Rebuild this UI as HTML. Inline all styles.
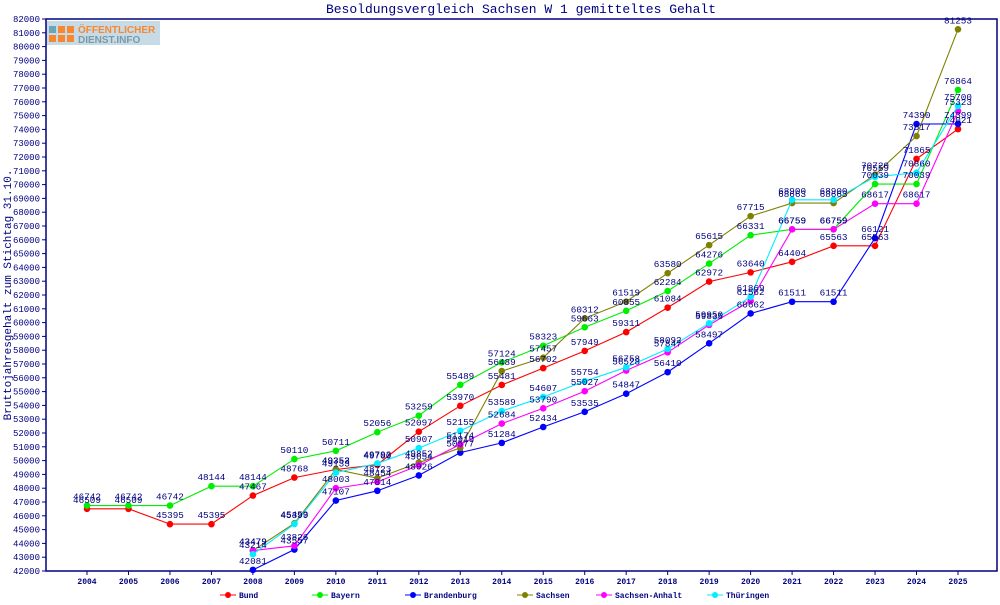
<!DOCTYPE html>
<html><head><meta charset="utf-8"><style>
body{margin:0;background:#fff;}
svg text{font-family:"Liberation Mono",monospace;fill:#000080;}
</style></head><body>
<svg id="chart" width="1000" height="600" xmlns="http://www.w3.org/2000/svg">
<text x="521" y="13" text-anchor="middle" font-size="13" font-weight="normal">Besoldungsvergleich Sachsen W 1 gemitteltes Gehalt</text>
<g>
<rect x="46" y="21" width="114" height="24" fill="#c7dbe6"/>
<rect x="49" y="26" width="7" height="7" fill="#6aa6b8"/><rect x="58" y="26" width="7" height="7" fill="#f7882f"/>
<rect x="49" y="35" width="7" height="7" fill="#f7882f"/><rect x="58" y="35" width="7" height="7" fill="#f7882f"/><rect x="67" y="35" width="7" height="7" fill="#f7882f"/><rect x="67" y="26" width="7" height="7" fill="#f7882f"/>
<text x="78" y="33" font-size="10" font-weight="bold" style="fill:#f7882f;font-family:'Liberation Sans',sans-serif">ÖFFENTLICHER</text>
<text x="78" y="43" font-size="10" font-weight="bold" style="fill:#7a9aa8;font-family:'Liberation Sans',sans-serif">DIENST.INFO</text>
</g>
<rect x="46" y="19" width="951" height="552" fill="none" stroke="#000080" stroke-width="1.5"/>
<text transform="translate(11,295) rotate(-90)" text-anchor="middle" font-size="11">Bruttojahresgehalt zum Stichtag 31.10.</text>
<g id="axes"></g><g id="series"></g><g id="legend"></g>
</svg>
<script>
const years=[2004,2005,2006,2007,2008,2009,2010,2011,2012,2013,2014,2015,2016,2017,2018,2019,2020,2021,2022,2023,2024,2025];
const yTicks=[];for(let v=42000;v<=82000;v+=1000)yTicks.push(v);
const seriesNames=["Bund","Bayern","Brandenburg","Sachsen","Sachsen-Anhalt","Thüringen"];
const seriesColors=["#ff0000","#00ee00","#0000ff","#808000","#ff00ff","#00eeff"];
const bund=[46509,46509,45395,45395,47467,48768,49352,49700,52097,53970,55481,56702,57949,59311,61084,62972,63640,64404,65563,65563,71865,74021];
const bayern=[46742,46742,46742,48144,48144,50110,50711,52056,53259,55489,57124,58323,59663,60855,62284,64276,66331,66759,66759,70039,70039,76864];
const brandenburg=[null,null,null,null,42081,43557,47107,47814,48926,50577,51284,52434,53535,54847,56410,58497,60662,61511,61511,66121,74390,74399];
const sachsen=[null,null,null,null,43479,45453,49353,48723,49852,50919,56489,57457,60312,61519,63580,65615,67715,68663,68663,70720,73517,81253];
const sachsenAnhalt=[null,null,null,null,43479,43826,48003,48454,49654,51174,52684,53790,55027,56528,57847,59835,61562,66759,66759,68617,68617,75323];
const thueringen=[null,null,null,null,43214,45399,49133,49793,50907,52155,53589,54607,55754,56758,58092,59950,61869,68900,68900,70559,70860,75700];
const allSeries=[bund,bayern,brandenburg,sachsen,sachsenAnhalt,thueringen];
const NS="http://www.w3.org/2000/svg";
const X=i=>87+i*41.476;
const Y=v=>571-(v-42000)*13.8/1000;
function mk(tag,attrs,parent){const e=document.createElementNS(NS,tag);for(const k in attrs)e.setAttribute(k,attrs[k]);parent.appendChild(e);return e;}
const axes=document.getElementById('axes');
yTicks.forEach(v=>{
 const t=mk('line',{x1:42,x2:46,y1:Y(v),y2:Y(v),stroke:'#000080'},axes);
 
 
 const l=mk('text',{x:40,y:Y(v)+3,'text-anchor':'end','font-size':'9'},axes);
 
 
 l.textContent=v;
});
years.forEach((yr,i)=>{
 const t=mk('line',{x1:X(i),x2:X(i),y1:571,y2:575,stroke:'#000080'},axes);
 
 
 const l=mk('text',{x:X(i),y:584,'text-anchor':'middle','font-size':'8','font-weight':'bold'},axes);
 
 
 l.textContent=yr;
});
const sg=document.getElementById('series');
allSeries.forEach((data,s)=>{
 const g=mk('g',{},sg);
 
 
 let d='';let pen=false;
 data.forEach((v,i)=>{if(v==null){pen=false;return;}d+=(pen?'L':'M')+X(i).toFixed(1)+','+Y(v).toFixed(1);pen=true;});
 const p=mk('path',{d:d,fill:'none',stroke:seriesColors[s],'stroke-width':1.1},g);
 
 
 data.forEach((v,i)=>{if(v==null)return;
  const c=mk('circle',{cx:X(i),cy:Y(v),r:3.3,fill:seriesColors[s]},g);
  
  
 });
});
allSeries.forEach((data,s)=>{
 data.forEach((v,i)=>{if(v==null)return;
  const l=mk('text',{x:X(i),y:Y(v)-6,'text-anchor':'middle','font-size':'9.3'},sg);
  
  
  l.textContent=v;
 });
});
const lg=document.getElementById('legend');
const lx=[228,320,413,525,604,715];
seriesNames.forEach((n,s)=>{
 const g=mk('g',{},lg);
 
 
 mk('line',{x1:lx[s]-8,x2:lx[s]+8,y1:595,y2:595,stroke:seriesColors[s]},g);
 mk('circle',{cx:lx[s],cy:595,r:3,fill:seriesColors[s]},g);
 const t=mk('text',{x:lx[s]+11,y:598,'font-size':'8','font-weight':'bold'},g);
 t.textContent=n;
});
</script>
</body></html>
